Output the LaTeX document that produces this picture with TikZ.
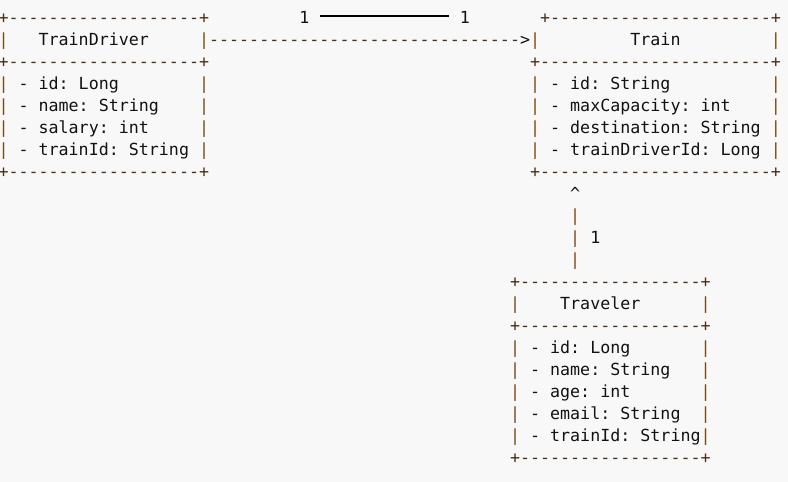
\documentclass[tikz,border=0pt]{standalone}
\usepackage{fontspec}
\setmonofont{DejaVu Sans Mono}
\usetikzlibrary{calc}
\definecolor{bg}{HTML}{F8F8F8}
\definecolor{brd}{HTML}{4A3015}
\definecolor{bar}{HTML}{7A4A14}
\definecolor{txt}{HTML}{121212}
\newcommand\hb[1]{\foreach\i in {1,...,#1}{-}}
\newcommand\cx[1]{-1.5+10.03*#1}
\newcommand\ry[1]{23+22*#1}
\begin{document}
\begin{tikzpicture}[x=1pt,y=-1pt,
  ch/.style={anchor=base west,inner sep=0pt,outer sep=0pt,font=\ttfamily\fontsize{16.66pt}{22pt}\selectfont},
  bd/.style={ch,text=brd},
  bv/.style={ch,text=bar},
  tx/.style={ch,text=txt},
  mline/.style={draw=black,line width=1.8pt}]
\fill[bg] (0,0) rectangle (788,482);
\useasboundingbox (0,0) rectangle (788,482);

% ---- TrainDriver box
\node[bd] (d0) at ({\cx{0}},{\ry{0}}) {+\hb{19}+};
\node[bv] (d1l) at ({\cx{0}},{\ry{1}}) {|};
\node[tx] (d1t) at ({\cx{4}},{\ry{1}}) {TrainDriver};
\node[bv] (d1r) at ({\cx{20}},{\ry{1}}) {|};
\node[bd] (d2) at ({\cx{0}},{\ry{2}}) {+\hb{19}+};
\foreach \r/\t [count=\k] in {3/{- id: Long},4/{- name: String},5/{- salary: int},6/{- trainId: String}}{
  \node[bv] (da\k l) at ({\cx{0}},{\ry{\r}}) {|};
  \node[tx] (da\k) at ({\cx{2}},{\ry{\r}}) {\t};
  \node[bv] (da\k r) at ({\cx{20}},{\ry{\r}}) {|};
}
\node[bd] (d7) at ({\cx{0}},{\ry{7}}) {+\hb{19}+};

% ---- association TrainDriver -> Train
\node[bd] (arr) at ({\cx{21}},{\ry{1}}) {\hb{31}};
\node[tx] (arrh) at ({\cx{52}},{\ry{1}}) {>};
\node[tx] (m1) at ({\cx{30}},{\ry{0}}) {1};
\node[tx] (m2) at ({\cx{46}},{\ry{0}}) {1};
\draw[mline] ($(m1.base east)+(10.6,-7)$) -- ($(m2.base west)+(-10.9,-7)$);

% ---- Train box
\node[bd] (t0) at ({\cx{54}},{\ry{0}}) {+\hb{22}+};
\node[bv] (t1l) at ({\cx{53}},{\ry{1}}) {|};
\node[tx] (t1t) at ({\cx{63}},{\ry{1}}) {Train};
\node[bv] (t1r) at ({\cx{77}},{\ry{1}}) {|};
\node[bd] (t2) at ({\cx{53}},{\ry{2}}) {+\hb{23}+};
\foreach \r/\t [count=\k] in {3/{- id: String},4/{- maxCapacity: int},5/{- destination: String},6/{- trainDriverId: Long}}{
  \node[bv] (ta\k l) at ({\cx{53}},{\ry{\r}}) {|};
  \node[tx] (ta\k) at ({\cx{55}},{\ry{\r}}) {\t};
  \node[bv] (ta\k r) at ({\cx{77}},{\ry{\r}}) {|};
}
\node[bd] (t7) at ({\cx{53}},{\ry{7}}) {+\hb{23}+};

% ---- association Traveler -> Train
\node[tx] (up) at ({\cx{57}},{\ry{8}}) {\^{}};
\foreach \r [count=\k] in {9,10,11}{
  \node[bv] (uv\k) at ({\cx{57}},{\ry{\r}}) {|};
}
\node[tx] (m3) at ({\cx{59}},{\ry{10}}) {1};

% ---- Traveler box
\node[bd] (v0) at ({\cx{51}},{\ry{12}}) {+\hb{18}+};
\node[bv] (v1l) at ({\cx{51}},{\ry{13}}) {|};
\node[tx] (v1t) at ({\cx{56}},{\ry{13}}) {Traveler};
\node[bv] (v1r) at ({\cx{70}},{\ry{13}}) {|};
\node[bd] (v2) at ({\cx{51}},{\ry{14}}) {+\hb{18}+};
\foreach \r/\t [count=\k] in {15/{- id: Long},16/{- name: String},17/{- age: int},18/{- email: String},19/{- trainId: String}}{
  \node[bv] (va\k l) at ({\cx{51}},{\ry{\r}}) {|};
  \node[tx] (va\k) at ({\cx{53}},{\ry{\r}}) {\t};
  \node[bv] (va\k r) at ({\cx{70}},{\ry{\r}}) {|};
}
\node[bd] (v7) at ({\cx{51}},{\ry{20}}) {+\hb{18}+};
\end{tikzpicture}
\end{document}
